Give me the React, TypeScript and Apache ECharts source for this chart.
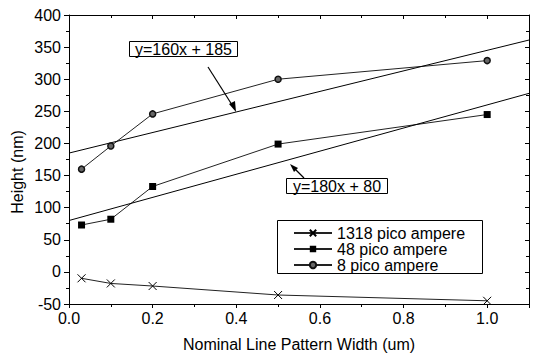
import React, { useEffect, useRef } from "react";
import * as echarts from "echarts";

const xValues = [0.03, 0.1, 0.2, 0.5, 1.0];
const pico1318 = [-10, -18, -22, -36, -45];
const pico48 = [73, 82, 133, 199, 245];
const pico8 = [160, 196, 246, 300, 329];
const fitX = [0, 1.1];
const fit8 = [185, 361]; // y = 160x + 185
const fit48 = [80, 278]; // y = 180x + 80
const seriesNames = ["1318 pico ampere", "48 pico ampere", "8 pico ampere"];

const FONT = "Liberation Sans, Arial, sans-serif";

export default function App() {
  const ref = useRef<HTMLDivElement>(null);
  useEffect(() => {
    const chart = echarts.init(ref.current!, null, { renderer: "svg" });
    const pair = (xs: number[], ys: number[]) => xs.map((x, i) => [x, ys[i]]);
    const lineStyle = { color: "#222", width: 1 };
    const yBase = { type: "value", min: -50, max: 400, interval: 50 };
    const xBase = { type: "value", min: 0, max: 1.1, interval: 0.2 };
    const black = { lineStyle: { color: "#000", width: 1 } };
    const option: any = {
      animation: false,
      grid: { left: 69, right: 10, top: 15, bottom: 49 },
      xAxis: [
        {
          ...xBase,
          position: "bottom",
          axisLine: { show: true, onZero: false, ...black },
          axisTick: { show: true, inside: false, length: 4, ...black },
          minorTick: { show: true, splitNumber: 2, length: 3, ...black },
          splitLine: { show: false },
          axisLabel: {
            showMaxLabel: false,
            formatter: (v: number) => v.toFixed(1),
            fontFamily: FONT,
            fontSize: 16,
            color: "#000",
            margin: 6,
          },
          name: "Nominal Line Pattern Width (um)",
          nameLocation: "middle",
          nameGap: 32,
          nameTextStyle: { fontFamily: FONT, fontSize: 16, color: "#000" },
        },
        {
          ...xBase,
          position: "top",
          axisLine: { show: true, onZero: false, ...black },
          axisTick: { show: true, inside: true, length: 4, ...black },
          minorTick: { show: true, splitNumber: 2, length: 3, ...black },
          splitLine: { show: false },
          axisLabel: { show: false },
        },
      ],
      yAxis: [
        {
          ...yBase,
          position: "left",
          axisLine: { show: true, onZero: false, ...black },
          axisTick: { show: true, inside: false, length: 5, ...black },
          splitLine: { show: false },
          axisLabel: {
            fontFamily: FONT,
            fontSize: 16,
            color: "#000",
            margin: 8,
          },
        },
        {
          ...yBase,
          position: "left",
          axisLine: { show: false, onZero: false },
          axisTick: { show: false },
          minorTick: { show: true, splitNumber: 2, length: 3, ...black },
          splitLine: { show: false },
          axisLabel: { show: false },
        },
        {
          ...yBase,
          position: "right",
          axisLine: { show: true, onZero: false, ...black },
          axisTick: { show: true, inside: true, length: 4, ...black },
          minorTick: { show: true, splitNumber: 2, length: 3, ...black },
          splitLine: { show: false },
          axisLabel: { show: false },
        },
      ],
      legend: {
        data: seriesNames,
        orient: "vertical",
        left: 293,
        top: 225,
        itemWidth: 38,
        itemHeight: 8,
        itemGap: 0,
        padding: 0,
        textStyle: { fontFamily: FONT, fontSize: 16, color: "#000", lineHeight: 16 },
      },
      series: [
        {
          name: seriesNames[0],
          type: "line",
          data: pair(xValues, pico1318),
          symbol: "path://M0,0L10,10M10,0L0,10",
          symbolSize: 8,
          lineStyle,
          itemStyle: { color: "rgba(0,0,0,0)", borderColor: "#000", borderWidth: 1 },
          z: 3,
        },
        {
          name: seriesNames[1],
          type: "line",
          data: pair(xValues, pico48),
          symbol: "rect",
          symbolSize: 7,
          lineStyle,
          itemStyle: { color: "#000" },
          z: 3,
        },
        {
          name: seriesNames[2],
          type: "line",
          data: pair(xValues, pico8),
          symbol: "circle",
          symbolSize: 6,
          lineStyle,
          itemStyle: { color: "#666", borderColor: "#111", borderWidth: 1.5 },
          z: 3,
        },
        {
          name: "fit8",
          type: "line",
          data: pair(fitX, fit8),
          symbol: "none",
          lineStyle: { color: "#000", width: 1 },
        },
        {
          name: "fit48",
          type: "line",
          data: pair(fitX, fit48),
          symbol: "none",
          lineStyle: { color: "#000", width: 1 },
        },
      ],
      graphic: [
        {
          type: "text",
          x: 17,
          y: 172,
          rotation: Math.PI / 2,
          style: {
            text: "Height (nm)",
            font: `16px ${FONT}`,
            fill: "#000",
            textAlign: "center",
            textVerticalAlign: "middle",
          },
        },
        {
          type: "rect",
          shape: { x: 277.5, y: 220.5, width: 205, height: 53 },
          style: { fill: "#fff", stroke: "#000", lineWidth: 1 },
          z: 1,
          silent: true,
        },
        {
          type: "rect",
          shape: { x: 129.5, y: 41.5, width: 108, height: 15 },
          style: { fill: "#fff", stroke: "#000", lineWidth: 1 },
          z: 10,
        },
        {
          type: "text",
          x: 183.5,
          y: 49,
          style: {
            text: "y=160x + 185",
            font: `16px ${FONT}`,
            fill: "#000",
            textAlign: "center",
            textVerticalAlign: "middle",
          },
          z: 11,
        },
        {
          type: "line",
          shape: { x1: 208, y1: 67, x2: 234, y2: 108 },
          style: { stroke: "#000", lineWidth: 1.2 },
          z: 10,
        },
        {
          type: "polygon",
          shape: { points: [[236, 112], [229, 104], [235, 101]] },
          style: { fill: "#000" },
          z: 10,
        },
        {
          type: "rect",
          shape: { x: 286.5, y: 178.5, width: 101, height: 15 },
          style: { fill: "#fff", stroke: "#000", lineWidth: 1 },
          z: 10,
        },
        {
          type: "text",
          x: 337,
          y: 186,
          style: {
            text: "y=180x + 80",
            font: `16px ${FONT}`,
            fill: "#000",
            textAlign: "center",
            textVerticalAlign: "middle",
          },
          z: 11,
        },
        {
          type: "line",
          shape: { x1: 304, y1: 178, x2: 293, y2: 167 },
          style: { stroke: "#000", lineWidth: 1.2 },
          z: 10,
        },
        {
          type: "polygon",
          shape: { points: [[290, 164], [298, 168], [294, 172]] },
          style: { fill: "#000" },
          z: 10,
        },
      ],
    };
    chart.setOption(option);
    return () => chart.dispose();
  }, []);
  return <div ref={ref} style={{ width: 539, height: 357, position: "absolute", left: 0, top: 0, background: "#fff" }} />;
}
